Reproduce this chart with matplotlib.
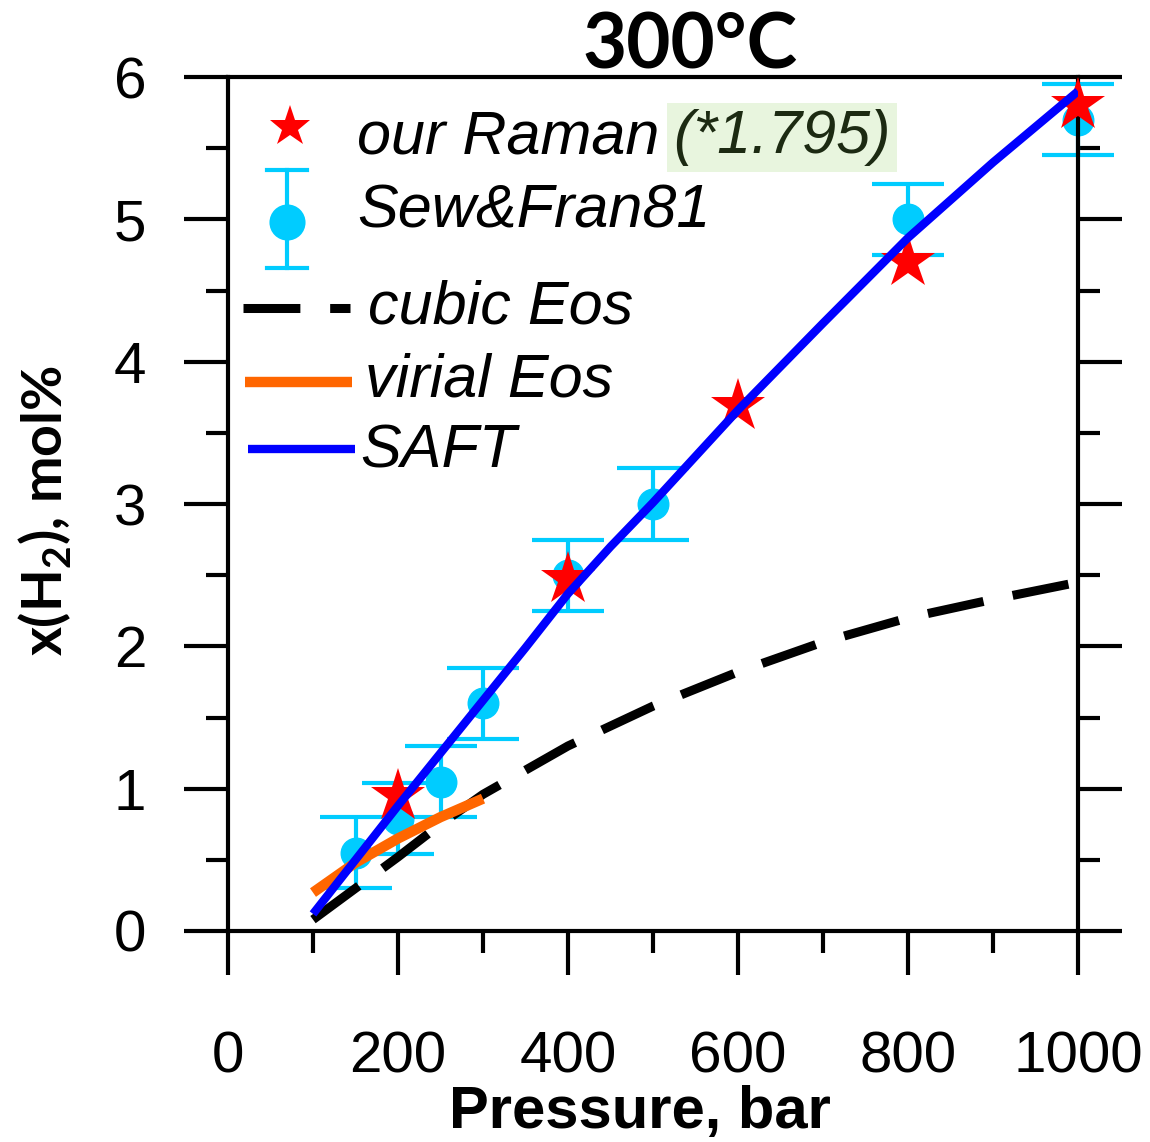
import matplotlib
matplotlib.use("Agg")
import matplotlib.pyplot as plt
from matplotlib.lines import Line2D
from matplotlib.ticker import MultipleLocator

plt.rcParams['font.family'] = ['Liberation Sans', 'DejaVu Sans']
plt.rcParams['mathtext.fontset'] = 'custom'
plt.rcParams['mathtext.rm'] = 'Lato:bold'

# Raman measurements (scaled by 1.795)
raman_p = [200, 400, 600, 800, 1000]
raman_x = [0.95, 2.47, 3.69, 4.70, 5.80]

# Seward & Franck (1981) with uncertainty
sf_p = [150, 200, 250, 300, 400, 500, 800, 1000]
sf_x = [0.55, 0.79, 1.05, 1.60, 2.50, 3.00, 5.00, 5.70]
sf_err = [0.25, 0.25, 0.25, 0.25, 0.25, 0.25, 0.25, 0.25]

# Model curves
cubic_p = [100, 150, 200, 250, 300, 400, 500, 600, 700, 800, 900, 1000]
cubic_x = [0.08, 0.30, 0.52, 0.75, 0.96, 1.30, 1.58, 1.82, 2.03, 2.20, 2.33, 2.45]

virial_p = [100, 150, 200, 250, 300]
virial_x = [0.27, 0.48, 0.65, 0.80, 0.93]

saft_p = [100, 150, 200, 250, 300, 350, 400, 450, 500, 600, 700, 800, 900, 1000]
saft_x = [0.12, 0.50, 0.88, 1.25, 1.62, 1.99, 2.37, 2.70, 3.01, 3.66, 4.27, 4.87, 5.40, 5.90]

RED = '#ff0000'
CYAN = '#00ccff'
BLUE = '#0000ff'
ORANGE = '#ff6600'

W, H = 1150, 1142
fig = plt.figure(figsize=(W / 100, H / 100), dpi=100)
ax = fig.add_axes([228 / W, 1 - 931 / H, 850 / W, 854 / H])

ax.errorbar(sf_p, sf_x, yerr=sf_err, fmt='o', color=CYAN, ms=22,
            elinewidth=3, capsize=26, capthick=3, zorder=2, clip_on=False)
ax.plot(raman_p, raman_x, '*', color=RED, ms=41, mew=0, zorder=3, clip_on=False)
ax.plot(cubic_p, cubic_x, color='black', lw=6.5, dashes=(6.3, 3.3),
        dash_capstyle='butt', zorder=4)
ax.plot(virial_p, virial_x, color=ORANGE, lw=7.5, solid_capstyle='butt', zorder=5)
ax.plot(saft_p, saft_x, color=BLUE, lw=6, solid_capstyle='butt',
        solid_joinstyle='round', zorder=6)

ax.set_xlim(0, 1000)
ax.set_ylim(0, 6)
ax.xaxis.set_major_locator(MultipleLocator(200))
ax.xaxis.set_minor_locator(MultipleLocator(100))
ax.yaxis.set_major_locator(MultipleLocator(1))
ax.yaxis.set_minor_locator(MultipleLocator(0.5))
for s in ax.spines.values():
    s.set_linewidth(3)
ax.tick_params(which='both', direction='out', width=3, left=True, right=True,
               bottom=True, top=False, labelright=False)
ax.tick_params(which='major', length=31.7)
ax.tick_params(which='minor', length=15.8)
ax.tick_params(axis='x', which='major', labelsize=42, pad=40)
ax.tick_params(axis='y', which='major', labelsize=42, pad=27)

ax.set_xlabel('Pressure, bar', fontsize=43, fontweight='bold')
ax.xaxis.label.set_va('baseline')
ax.xaxis.set_label_coords(0.485, (931 - 1128) / 854)

ax.set_ylabel('x(H$_\\mathregular{2}$), mol%', fontsize=40, fontweight='bold',
              family=['Lato', 'DejaVu Sans'])
ax.yaxis.label.set_va('center')
ax.yaxis.set_label_coords((45 - 228) / 850, (931 - 511) / 854)

ax.text(0.5435, (931 - 68) / 854, '300°C', transform=ax.transAxes,
        ha='center', va='baseline', fontsize=55, fontweight='bold',
        family=['Lato', 'DejaVu Sans'])

# Legend drawn in figure pixel space
def fx(px):
    return px / W

def fy(py):
    return 1 - py / H

fig.add_artist(Line2D([fx(290)], [fy(127)], marker='*', color=RED, ms=31, mew=0))
fig.add_artist(Line2D([fx(287), fx(287)], [fy(170), fy(268)], color=CYAN, lw=3))
for cy in (170, 268):
    fig.add_artist(Line2D([fx(267), fx(307)], [fy(cy), fy(cy)], color=CYAN, lw=3))
fig.add_artist(Line2D([fx(287)], [fy(222)], marker='o', color=CYAN, ms=26, mew=0))
fig.add_artist(Line2D([fx(243), fx(350)], [fy(308), fy(308)], color='black', lw=6.5,
                      dashes=(6.3, 3.3), dash_capstyle='butt'))
fig.add_artist(Line2D([fx(245), fx(352)], [fy(382), fy(382)], color=ORANGE, lw=7.5,
                      solid_capstyle='butt'))
fig.add_artist(Line2D([fx(248), fx(355)], [fy(449), fy(449)], color=BLUE, lw=6,
                      solid_capstyle='butt'))

leg_fs = 44
fig.text(fx(357), fy(153), 'our Raman', fontsize=leg_fs, style='italic', va='baseline')
fig.text(fx(673), fy(153), '(*1.795)', fontsize=leg_fs, style='italic', va='baseline',
         color='#1c2a12',
         bbox=dict(boxstyle='square,pad=0.1', fc='#e8f5de', ec='none'))
fig.text(fx(357), fy(228), 'Sew&Fran81', fontsize=leg_fs, style='italic', va='baseline')
fig.text(fx(368), fy(323), 'cubic Eos', fontsize=leg_fs, style='italic', va='baseline')
fig.text(fx(365), fy(397), 'virial Eos', fontsize=leg_fs, style='italic', va='baseline')
fig.text(fx(360), fy(467), 'SAFT', fontsize=leg_fs, style='italic', va='baseline')

fig.savefig('out.png', dpi=100)
